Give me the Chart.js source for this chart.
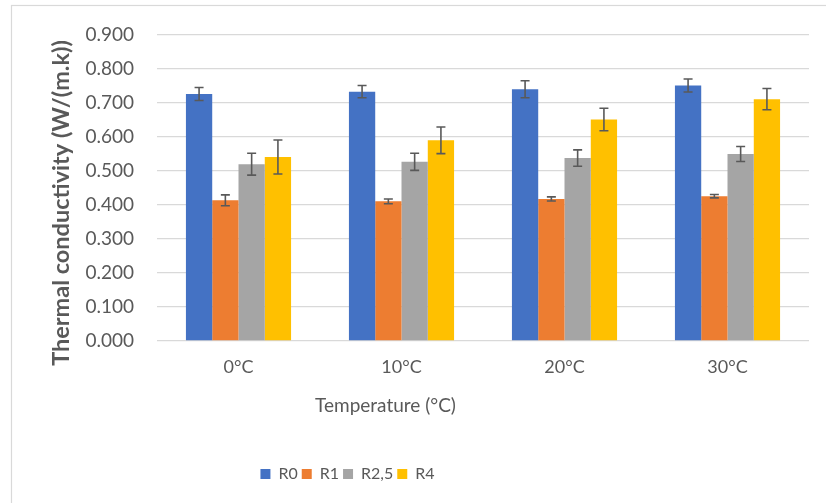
<!DOCTYPE html>
<html>
<head>
<meta charset="utf-8">
<script src="https://cdn.jsdelivr.net/npm/chart.js@4/dist/chart.umd.min.js"></script>
<style>
  html, body { margin: 0; padding: 0; background: #ffffff; }
  #wrap { width: 826px; height: 503px; position: relative; }
</style>
</head>
<body>
<div id="wrap"><canvas id="c" width="826" height="503"></canvas></div>
<script>
const categories = ["0°C", "10°C", "20°C", "30°C"];
const seriesNames = ["R0", "R1", "R2,5", "R4"];
const r0 = [0.725, 0.732, 0.739, 0.750];
const r1 = [0.413, 0.410, 0.417, 0.425];
const r25 = [0.519, 0.526, 0.537, 0.549];
const r4 = [0.540, 0.589, 0.650, 0.710];
const r0Err = [0.019, 0.018, 0.025, 0.019];
const r1Err = [0.016, 0.007, 0.006, 0.005];
const r25Err = [0.032, 0.025, 0.024, 0.022];
const r4Err = [0.050, 0.039, 0.033, 0.031];
const yTicks = [0, 0.1, 0.2, 0.3, 0.4, 0.5, 0.6, 0.7, 0.8, 0.9];
const yTitle = "Thermal conductivity (W/(m.k))";
const xTitle = "Temperature (°C)";

const colors = ["#4472C4", "#ED7D31", "#A5A5A5", "#FFC000"];
const values = [r0, r1, r25, r4];
const errors = [r0Err, r1Err, r25Err, r4Err];
const textColor = "#595959";
const fontFamily = "Lato, 'Open Sans', sans-serif";

const errorBars = {
  id: "errorBars",
  afterDatasetsDraw(chart) {
    const ctx = chart.ctx;
    const yScale = chart.scales.y;
    ctx.save();
    ctx.strokeStyle = "#595959";
    ctx.lineWidth = 1.6;
    chart.data.datasets.forEach((ds, i) => {
      const meta = chart.getDatasetMeta(i);
      meta.data.forEach((bar, j) => {
        const v = ds.data[j], e = ds.errors[j];
        const yt = yScale.getPixelForValue(v + e);
        const yb = yScale.getPixelForValue(v - e);
        const x = bar.x, cap = 4.5;
        ctx.beginPath();
        ctx.moveTo(x, yt); ctx.lineTo(x, yb);
        ctx.moveTo(x - cap, yt); ctx.lineTo(x + cap, yt);
        ctx.moveTo(x - cap, yb); ctx.lineTo(x + cap, yb);
        ctx.stroke();
      });
    });
    ctx.restore();
  }
};

const legendShift = {
  id: "legendShift",
  afterLayout(chart) {
    const lg = chart.legend;
    if (lg) { lg.left -= 57; lg.right -= 57; }
  }
};

const frameAndTitles = {
  id: "frameAndTitles",
  beforeDraw(chart) {
    const ctx = chart.ctx;
    ctx.save();
    ctx.fillStyle = "#ffffff";
    ctx.fillRect(0, 0, chart.width, chart.height);
    ctx.strokeStyle = "#d9d9d9";
    ctx.lineWidth = 1.2;
    ctx.strokeRect(11.5, 5.5, chart.width + 10, chart.height + 10);
    ctx.restore();
  },
  afterDraw(chart) {
    const ctx = chart.ctx;
    ctx.save();
    ctx.fillStyle = textColor;
    ctx.textAlign = "center";
    ctx.textBaseline = "middle";
    ctx.font = "19px " + fontFamily;
    ctx.fillText(xTitle, 385.5, 406);
    ctx.translate(61, 203);
    ctx.rotate(-Math.PI / 2);
    ctx.font = "bold 23.5px " + fontFamily;
    ctx.fillText(yTitle, 0, 0);
    ctx.restore();
  }
};

new Chart(document.getElementById("c"), {
  type: "bar",
  data: {
    labels: categories,
    datasets: seriesNames.map((name, i) => ({
      label: name,
      data: values[i],
      errors: errors[i],
      backgroundColor: colors[i],
      borderWidth: 0,
      barPercentage: 1.0,
      categoryPercentage: 0.645
    }))
  },
  options: {
    responsive: false,
    animation: false,
    devicePixelRatio: 1,
    layout: { padding: { top: 33, right: 17, bottom: 11, left: 0 } },
    plugins: {
      legend: {
        position: "bottom",
        labels: {
          color: textColor,
          font: { family: fontFamily, size: 16 },
          boxWidth: 10,
          boxHeight: 10,
          padding: 4
        }
      },
      tooltip: { enabled: false }
    },
    scales: {
      x: {
        grid: { display: false, drawTicks: false },
        border: { display: false },
        ticks: { color: textColor, font: { family: fontFamily, size: 18 }, padding: 15 },
        title: { display: false },
        afterFit(scale) { scale.height = 121; }
      },
      y: {
        min: 0,
        max: 0.9,
        afterBuildTicks(scale) { scale.ticks = yTicks.map(v => ({ value: v })); },
        grid: { color: "#d9d9d9", lineWidth: 1.3, drawTicks: false },
        border: { display: false },
        ticks: {
          color: textColor,
          font: { family: fontFamily, size: 19 },
          padding: 23,
          callback: (v) => Number(v).toFixed(3)
        },
        afterFit(scale) { scale.width = 157; }
      }
    }
  },
  plugins: [frameAndTitles, legendShift, errorBars]
});
</script>
</body>
</html>
